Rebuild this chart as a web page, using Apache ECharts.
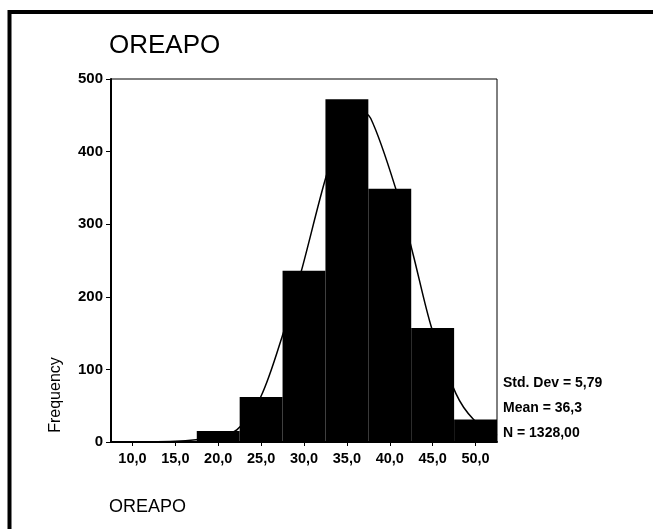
<!DOCTYPE html>
<html>
<head>
<meta charset="utf-8">
<script src="https://cdn.jsdelivr.net/npm/echarts@6/dist/echarts.min.js"></script>
<style>html,body{margin:0;padding:0;background:#fff;}#c{width:653px;height:529px;}</style>
</head>
<body>
<div id="c"></div>
<script>
var binLabels = ['10,0','15,0','20,0','25,0','30,0','35,0','40,0','45,0','50,0'];
var frequencies = [0, 0, 15, 62, 236, 472, 349, 157, 31];
var yTicks = [0, 100, 200, 300, 400, 500];
// normal curve points: [value, frequency]
var curveX = [7.5, 15, 20, 22.2, 24.95, 27.5, 29.7, 32.56, 34.5, 36.3, 37.77, 40.72, 42.73, 44.88, 47.7, 49.77, 52.5];
var curveY = [0, 1, 8, 17, 62, 147, 236, 365, 430, 458, 446, 348, 258, 157, 67, 31, 9];
var statLines = ['Std. Dev = 5,79', 'Mean = 36,3', 'N = 1328,00'];
var titleText = 'OREAPO';
var xAxisTitle = 'OREAPO';
var yAxisTitle = 'Frequency';

var FONT = '"Liberation Sans", Arial, sans-serif';
var chart = echarts.init(document.getElementById('c'), null, {renderer: 'canvas'});
var curve = curveX.map(function (x, i) { return [x, curveY[i]]; });

var graphics = [
  {type: 'polyline', shape: {points: [[9.5, 529], [9.5, 12], [653, 12]]},
   style: {stroke: '#000', lineWidth: 4, fill: null}, z: 10},
  {type: 'text', x: 56, y: 395, rotation: Math.PI / 2,
   style: {text: yAxisTitle, font: '16px ' + FONT, fill: '#000', align: 'center', verticalAlign: 'middle'}},
  {type: 'text', x: 109, y: 507,
   style: {text: xAxisTitle, font: '18px ' + FONT, fill: '#000', align: 'left', verticalAlign: 'middle'}}
];
statLines.forEach(function (s, i) {
  graphics.push({type: 'text', x: 503, y: 383 + i * 25,
    style: {text: s, font: 'bold 14px ' + FONT, fill: '#000', align: 'left', verticalAlign: 'middle'}});
});

chart.setOption({
  backgroundColor: '#fff',
  animation: false,
  title: [
    {text: titleText, left: 104, top: 28, textStyle: {fontFamily: FONT, fontSize: 26, fontWeight: 'normal', color: '#000'}}
  ],
  grid: {left: 111, right: 156, top: 79, bottom: 87, show: true, borderColor: '#000', borderWidth: 1, backgroundColor: 'transparent'},
  xAxis: [
    {type: 'category', data: binLabels, boundaryGap: true,
     axisLine: {show: true, lineStyle: {color: '#000', width: 2}},
     axisTick: {show: true, alignWithLabel: true, length: 4, lineStyle: {color: '#000'}},
     axisLabel: {color: '#000', fontFamily: FONT, fontSize: 14.5, fontWeight: 'bold', margin: 9},
     splitLine: {show: false}},
    {type: 'value', min: 7.5, max: 52.5, show: false}
  ],
  yAxis: {type: 'value', min: yTicks[0], max: yTicks[yTicks.length - 1], interval: 100,
    axisLine: {show: true, lineStyle: {color: '#000', width: 2}},
    axisTick: {show: true, length: 5, lineStyle: {color: '#000'}},
    axisLabel: {color: '#000', fontFamily: FONT, fontSize: 15, fontWeight: 'bold', margin: 8},
    splitLine: {show: false}},
  series: [
    {type: 'bar', data: frequencies, xAxisIndex: 0, barCategoryGap: '0%',
     itemStyle: {color: '#000'}, z: 2},
    {type: 'line', data: curve, xAxisIndex: 1, smooth: 0.3, showSymbol: false, symbol: 'none',
     lineStyle: {color: '#000', width: 1.5}, z: 3}
  ],
  graphic: graphics
});
</script>
</body>
</html>
